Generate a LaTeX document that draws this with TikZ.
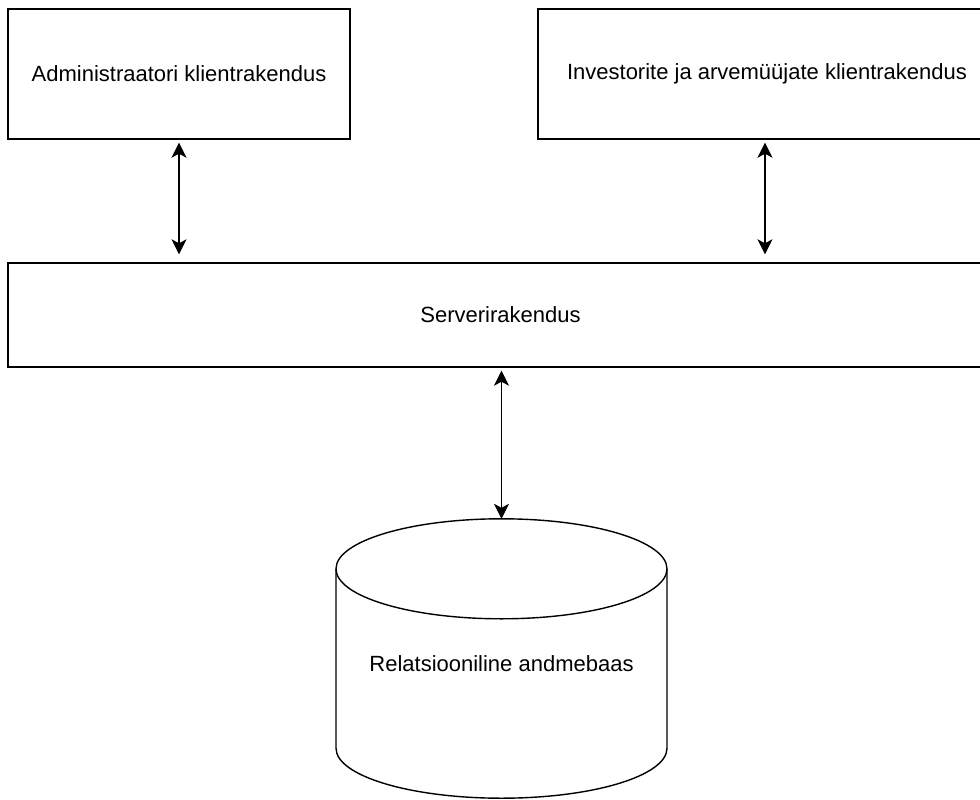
\documentclass[tikz,border=0pt]{standalone}
\usepackage{fontspec}
\setmainfont{Liberation Sans}
\usetikzlibrary{arrows.meta,calc}
\begin{document}
\begin{tikzpicture}[x=1pt,y=-1pt,
  lw/.style={line width=1.4pt},
  box/.style={draw, lw, rectangle, inner sep=0pt, font=\fontsize{22}{26}\selectfont},
  txt/.style={inner sep=0pt, font=\fontsize{22}{26}\selectfont},
  link/.style={lw, {Stealth[length=15pt,width=15pt,inset=4pt]}-{Stealth[length=15pt,width=15pt,inset=4pt]}}]
\useasboundingbox (0,0) rectangle (980,800);
\clip (0,0) rectangle (980,800);
\fill[white] (0,0) rectangle (980,800);
\node[box, minimum width=342pt, minimum height=130pt] (admin) at (179,74) {Administraatori klientrakendus};
\node[box, minimum width=458pt, minimum height=130pt] (inv) at (767,74) {Investorite ja arvemüüjate klientrakendus};
\node[box, minimum width=985pt, minimum height=104pt] (server) at (500.5,315) {Serverirakendus};
\node[inner sep=0pt, minimum width=331pt, minimum height=279pt] (db) at (501.5,658.5) {};
% cylinder
\coordinate (ct) at ($(db.north)+(0,50)$);
\coordinate (cb) at ($(db.south)+(0,-50)$);
\draw[lw] (ct) ellipse [x radius=165.5pt, y radius=50pt];
\draw[lw] ($(ct)+(-165.5,0)$) -- ($(cb)+(-165.5,0)$)
  arc[start angle=180, end angle=360, x radius=165.5pt, y radius=50pt]
  -- ($(ct)+(165.5,0)$);
\node[txt] (dblabel) at (501.5,664) {Relatsiooniline andmebaas};
% connectors
\draw[link] ($(admin.south)+(0,3)$) -- ($(admin.south |- server.north)+(0,-8)$);
\draw[link] ($(inv.south)+(-2,3)$) -- ($(inv.south |- server.north)+(-2,-8)$);
\draw[link] ($(db.north |- server.south)+(0,3)$) -- (db.north);
\end{tikzpicture}
\end{document}
